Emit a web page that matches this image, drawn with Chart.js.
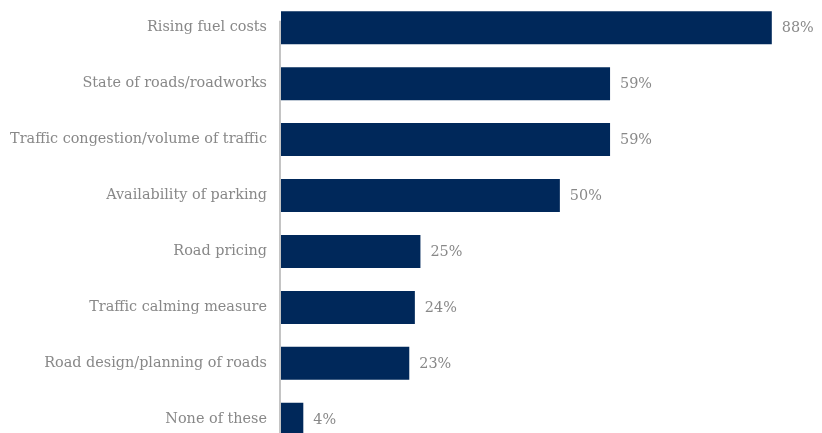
<!DOCTYPE html>
<html>
<head>
<meta charset="utf-8">
<script src="https://cdn.jsdelivr.net/npm/chart.js@4.4.1/dist/chart.umd.min.js"></script>
<style>
  html, body { margin: 0; padding: 0; background: #fff; overflow: hidden; }
  #chart { display: block; margin-top: -1px; }
</style>
</head>
<body>
<canvas id="chart" width="822" height="449"></canvas>
<script>
const categories = [
  "Rising fuel costs",
  "State of roads/roadworks",
  "Traffic congestion/volume of traffic",
  "Availability of parking",
  "Road pricing",
  "Traffic calming measure",
  "Road design/planning of roads",
  "None of these"
];
const shares = [88, 59, 59, 50, 25, 24, 23, 4];

const barColor = "#00285a";
const textColor = "#888888";
const fontFamily = "'DejaVu Serif', serif";

// value labels after each bar, plus the short grey axis line
const barLabels = {
  id: "barLabels",
  afterDatasetsDraw(chart) {
    const { ctx, chartArea } = chart;
    ctx.save();
    ctx.strokeStyle = "#c4c4c4";
    ctx.lineWidth = 2;
    ctx.beginPath();
    ctx.moveTo(chartArea.left - 1, chartArea.top + 21);
    ctx.lineTo(chartArea.left - 1, chart.height);
    ctx.stroke();

    ctx.fillStyle = textColor;
    ctx.font = "14.4px " + fontFamily;
    ctx.textBaseline = "middle";
    ctx.textAlign = "left";
    chart.getDatasetMeta(0).data.forEach((bar, i) => {
      ctx.fillText(shares[i] + "%", bar.x + 10, bar.y + 1);
    });
    ctx.restore();
  }
};

const chart = new Chart(document.getElementById("chart"), {
  type: "bar",
  data: {
    labels: categories,
    datasets: [{
      data: shares,
      backgroundColor: barColor,
      categoryPercentage: 1,
      barPercentage: 0.59
    }]
  },
  options: {
    indexAxis: "y",
    responsive: false,
    animation: false,
    layout: { padding: 0 },
    plugins: {
      legend: { display: false },
      tooltip: { enabled: false }
    },
    scales: {
      x: {
        display: false,
        min: 0,
        max: 97
      },
      y: {
        afterFit: (scale) => { scale.width = 281; },
        border: { display: false },
        // hidden tick marks still push the labels 14px off the bars
        grid: { display: false, drawTicks: true, tickLength: 14 },
        ticks: {
          padding: 0,
          color: textColor,
          font: { family: fontFamily, size: 14.4, lineHeight: 0.1 }
        }
      }
    }
  },
  plugins: [barLabels]
});
</script>
</body>
</html>
